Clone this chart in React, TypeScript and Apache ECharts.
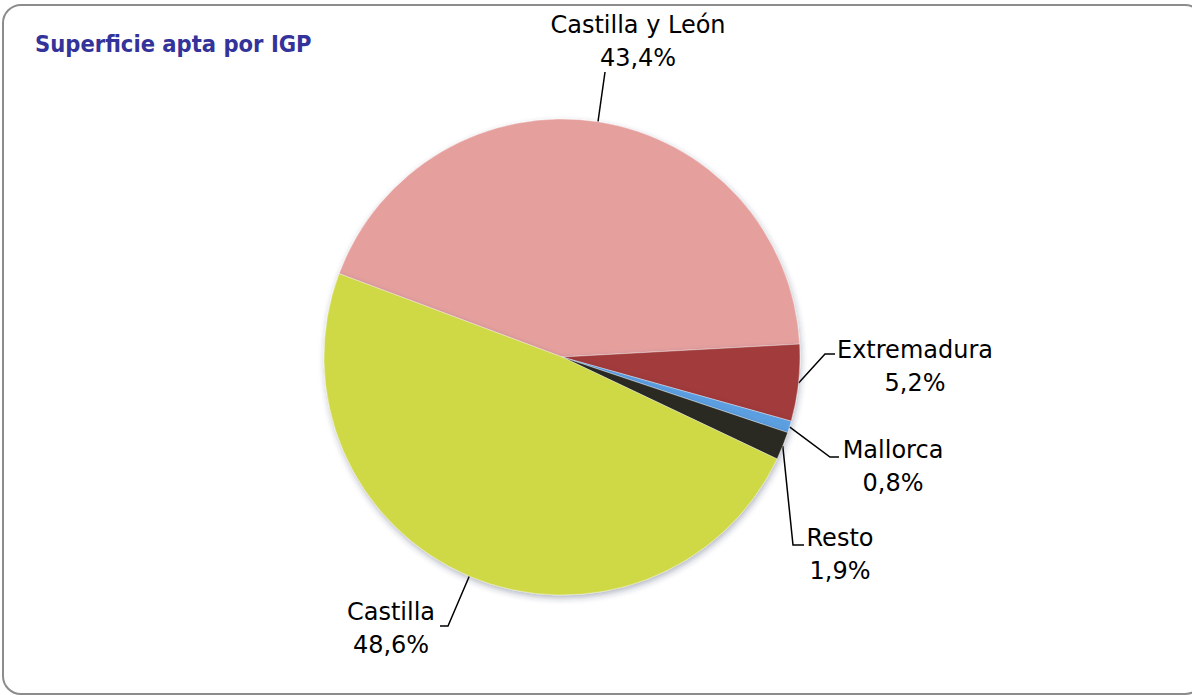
import React, { useEffect, useRef } from "react";
import * as echarts from "echarts";

const categories = ["Castilla y León", "Extremadura", "Mallorca", "Resto", "Castilla"];
const shares = [43.4, 5.2, 0.8, 1.9, 48.6];
const colors = ["#e5a09e", "#a23b3b", "#5b9fe0", "#2b2a22", "#cfd845"];
const titleText = "Superficie apta por IGP";

// label block centres and leader-line elbows (layout only)
const labelCentres = [
  [638, 41],
  [915, 366],
  [893, 466],
  [840, 554],
  [391, 628],
];
const elbows = [
  [[605, 72], [605, 72]],
  [[825, 354], [835, 354]],
  [[830, 457], [839, 457]],
  [[793, 545], [804, 545]],
  [[448, 626], [440, 626]],
];

const CX = 562;
const CY = 357;
const R = 238;
const START = 159.5;

export default function App() {
  const ref = useRef<HTMLDivElement>(null);
  useEffect(() => {
    if (!ref.current) return;
    const chart = echarts.init(ref.current, null, { renderer: "svg" });
    const total = shares.reduce((a, b) => a + b, 0);
    const mids: number[] = [];
    let acc = 0;
    shares.forEach((v) => {
      const mid = START - ((acc + v / 2) / total) * 360;
      mids.push(mid);
      acc += v;
    });
    chart.setOption({
      animation: false,
      title: {
        text: titleText,
        left: 35,
        top: 32,
        padding: 0,
        textStyle: {
          fontFamily: "DejaVu Sans Condensed",
          fontWeight: "bold",
          fontSize: 23.5,
          color: "#333399",
        },
      },
      graphic: [
        {
          type: "rect",
          shape: { x: 3, y: 5, width: 1200, height: 689, r: 18 },
          style: { fill: "none", stroke: "#8c8c8c", lineWidth: 2 },
          silent: true,
          z: 0,
        },
      ],
      series: [
        {
          type: "pie",
          center: [CX, CY],
          radius: R,
          startAngle: START,
          clockwise: true,
          avoidLabelOverlap: false,
          data: categories.map((name, i) => ({
            name,
            value: shares[i],
            itemStyle: { color: colors[i] },
          })),
          itemStyle: {
            borderColor: "rgba(255,255,255,0.35)",
            borderWidth: 1,
            shadowBlur: 6,
            shadowColor: "rgba(40,50,90,0.35)",
            shadowOffsetX: 1,
            shadowOffsetY: 3,
          },
          label: {
            show: true,
            formatter: (p: any) =>
              p.name + "\n" + Number(p.value).toFixed(1).replace(".", ",") + "%",
            fontFamily: "DejaVu Sans",
            fontSize: 24,
            lineHeight: 33,
            color: "#000",
            align: "center",
          },
          labelLine: {
            show: true,
            lineStyle: { color: "#000", width: 1.5 },
          },
          emphasis: { disabled: true },
          labelLayout: (params: any) => {
            const i = params.dataIndex;
            const a = (mids[i] * Math.PI) / 180;
            const p0 = [CX + R * Math.cos(a), CY - R * Math.sin(a)];
            return {
              x: labelCentres[i][0],
              y: labelCentres[i][1],
              align: "center",
              verticalAlign: "middle",
              labelLinePoints: [p0, elbows[i][0], elbows[i][1]],
            };
          },
        },
      ],
    });
    return () => chart.dispose();
  }, []);
  return (
    <div
      ref={ref}
      style={{ position: "absolute", left: 0, top: 0, width: 1192, height: 695 }}
    />
  );
}
